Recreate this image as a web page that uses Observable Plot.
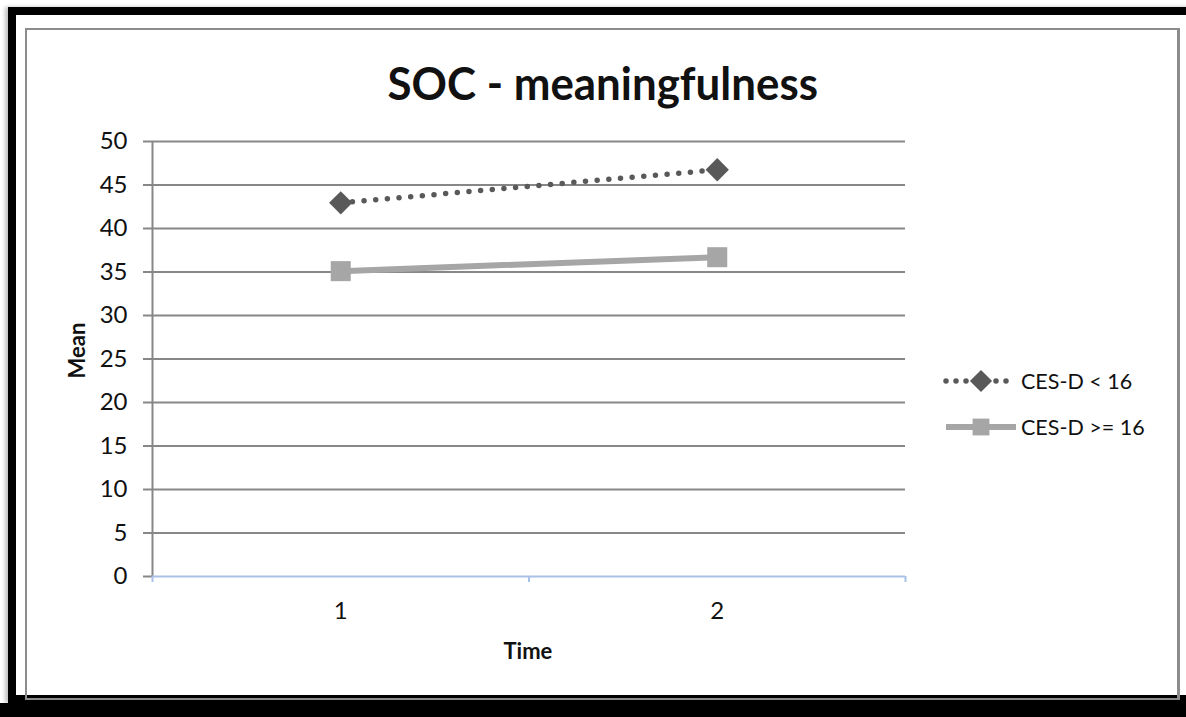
<!DOCTYPE html>
<html>
<head>
<meta charset="utf-8">
<script src="https://cdn.jsdelivr.net/npm/d3@7"></script>
<script src="https://cdn.jsdelivr.net/npm/@observablehq/plot@0.6"></script>
<style>
  html, body { margin: 0; padding: 0; background: #fff; }
  #wrap { position: relative; width: 1186px; height: 717px; overflow: hidden; font-family: Lato, "Open Sans", sans-serif; color: #111; }
  #outer { position: absolute; left: 8px; top: 7px; width: 1220px; height: 696px; border: 8px solid #000; box-sizing: border-box; box-shadow: -3px 0 4px rgba(0,0,0,0.25); pointer-events: none; }
  #inner { position: absolute; left: 25px; top: 28px; width: 1155px; height: 672px; border: 2px solid #8c8c8c; border-right-width: 3px; box-sizing: border-box; pointer-events: none; }
  #bottombar { position: absolute; left: 0; top: 703px; width: 1186px; height: 14px; background: #000; }
  .lbl { position: absolute; white-space: nowrap; transform-origin: center center; }
  #title { font-weight: 700; font-size: 46px; }
  #ylab { font-weight: 700; font-size: 22px; }
  #xlab { font-weight: 700; font-size: 22px; }
  .legtext { position: absolute; font-size: 21.5px; white-space: nowrap; }
</style>
</head>
<body>
<div id="wrap">
  <div id="outer"></div>
  <div id="bottombar"></div>
  <div id="inner"></div>
  <div id="chart" style="position:absolute;left:0;top:0;"></div>
  <div id="title" class="lbl">SOC - meaningfulness</div>
  <div id="ylab" class="lbl">Mean</div>
  <div id="xlab" class="lbl">Time</div>
  <div id="legend"></div>
</div>
<script>
// ---- data ----
const times = [1, 2];
const seriesNames = ["CES-D < 16", "CES-D >= 16"];
const lowDepressionMeans = [42.95, 46.75];
const highDepressionMeans = [35.1, 36.7];
const yTicks = [0, 5, 10, 15, 20, 25, 30, 35, 40, 45, 50];

const rows = [];
times.forEach((t, i) => rows.push({time: t, series: seriesNames[0], mean: lowDepressionMeans[i]}));
times.forEach((t, i) => rows.push({time: t, series: seriesNames[1], mean: highDepressionMeans[i]}));
const lowRows = rows.filter(d => d.series === seriesNames[0]);
const highRows = rows.filter(d => d.series === seriesNames[1]);

const edges = times.map(t => t - 0.5).concat([times[times.length - 1] + 0.5]);

const darkGrey = "#595959";
const lightGrey = "#a6a6a6";
const gridGrey = "#878787";
const axisBlue = "#a9c1e6";

const chart = Plot.plot({
  width: 1186,
  height: 717,
  marginLeft: 152,
  marginRight: 281,
  marginTop: 141,
  marginBottom: 141,
  style: {background: "transparent", fontFamily: "Lato, 'Open Sans', sans-serif", color: "#111"},
  x: {domain: [edges[0], edges[edges.length - 1]]},
  y: {domain: [0, 50]},
  marks: [
    Plot.gridY(yTicks.filter(v => v !== 0), {stroke: gridGrey, strokeOpacity: 1, strokeWidth: 2}),
    Plot.axisY({ticks: yTicks, tickSize: 9, tickPadding: 16, stroke: gridGrey, strokeWidth: 2, fontSize: 24, label: null, fill: "#111"}),
    Plot.ruleX([edges[0]], {stroke: gridGrey, strokeWidth: 2}),
    Plot.axisX({ticks: edges, tickSize: 6, stroke: axisBlue, strokeWidth: 2, tickFormat: () => "", label: null}),
    Plot.axisX({ticks: times, tickSize: 0, tickPadding: 25, fontSize: 24, label: null, fill: "#111", tickFormat: d3.format("d")}),
    Plot.ruleY([0], {stroke: axisBlue, strokeWidth: 2}),
    Plot.line(highRows, {x: "time", y: "mean", stroke: lightGrey, strokeWidth: 6}),
    Plot.line(lowRows, {x: "time", y: "mean", stroke: darkGrey, strokeWidth: 5.5, strokeDasharray: "0,11.7", strokeLinecap: "round"}),
    Plot.dot(lowRows, {x: "time", y: "mean", symbol: "diamond2", r: 10.5, fill: darkGrey, stroke: "none"}),
    Plot.dot(highRows, {x: "time", y: "mean", symbol: "square", r: 11.3, fill: lightGrey, stroke: "none"})
  ]
});
document.getElementById("chart").appendChild(chart);

// ---- legend ----
const legend = document.getElementById("legend");
const legSvg = d3.create("svg").attr("width", 90).attr("height", 80)
  .style("position", "absolute").style("left", "940px").style("top", "364px");
const legItems = [
  {name: seriesNames[0], color: darkGrey, dotted: true, symbol: d3.symbolDiamond2, size: Math.PI * 10 * 10},
  {name: seriesNames[1], color: lightGrey, dotted: false, symbol: d3.symbolSquare, size: Math.PI * 9.5 * 9.5}
];
legItems.forEach((it, i) => {
  const cy = 17 + i * 46;
  legSvg.append("line").attr("x1", 6).attr("x2", 76).attr("y1", cy).attr("y2", cy)
    .attr("stroke", it.color).attr("stroke-width", it.dotted ? 5.5 : 6)
    .attr("stroke-dasharray", it.dotted ? "0,10" : null)
    .attr("stroke-linecap", it.dotted ? "round" : "butt");
  legSvg.append("path").attr("d", d3.symbol(it.symbol, it.size)()).attr("transform", `translate(41,${cy})`).attr("fill", it.color);
  const t = document.createElement("div");
  t.className = "legtext";
  t.textContent = it.name;
  t.style.left = "1021px";
  t.style.top = (364 + cy - 13) + "px";
  legend.appendChild(t);
});
legend.appendChild(legSvg.node());

// ---- place labels ----
function place(id, cx, cy, targetW, rotate) {
  const el = document.getElementById(id);
  const w = el.offsetWidth, h = el.offsetHeight;
  el.style.left = (cx - w / 2) + "px";
  el.style.top = (cy - h / 2) + "px";
  const s = targetW ? targetW / w : 1;
  el.style.transform = (rotate ? `rotate(${rotate}deg) ` : "") + `scaleX(${s})`;
}
place("title", 602, 82, 430, 0);
place("ylab", 77, 350, 0, -90);
place("xlab", 528, 650, 0, 0);
</script>
</body>
</html>
